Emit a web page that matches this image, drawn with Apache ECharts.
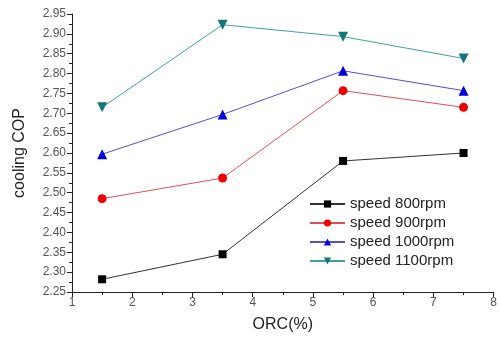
<!DOCTYPE html>
<html><head><meta charset="utf-8">
<script src="https://cdn.jsdelivr.net/npm/echarts@6/dist/echarts.min.js"></script>
<style>html,body{margin:0;padding:0;background:#fff}#c{width:500px;height:339px}</style>
</head><body><div id="c"></div>
<script>
const orc = [1.5, 3.5, 5.5, 7.5];
const s800 = [2.282, 2.345, 2.580, 2.600];
const s900 = [2.485, 2.537, 2.757, 2.715];
const s1000 = [2.597, 2.697, 2.807, 2.757];
const s1100 = [2.715, 2.923, 2.893, 2.838];
const names = ['speed 800rpm','speed 900rpm','speed 1000rpm','speed 1100rpm'];

const font = 'Liberation Sans, Arial, sans-serif';
function mk(name, vals, lineColor, markColor, symbol, rot, size){
  return {name, type:'line', data: orc.map((x,i)=>[x, vals[i]]),
    symbol, symbolSize:size, symbolRotate:rot,
    lineStyle:{color:lineColor, width:1},
    itemStyle:{color:markColor},
    color: markColor,
    emphasis:{disabled:true}};
}
const chart = echarts.init(document.getElementById('c'));
chart.setOption({
  animation:false,
  grid:{left:72, right:4, top:14, bottom:47},
  legend:{
    orient:'vertical', left:304, top:191, itemGap:3, itemWidth:35, itemHeight:9,
    textStyle:{fontFamily:font, fontSize:15, lineHeight:16, color:'#222'},
    data: names
  },
  xAxis:{type:'value', min:1, max:8, interval:1,
    name:'ORC(%)', nameLocation:'middle', nameGap:25,
    nameTextStyle:{fontFamily:font, fontSize:16, color:'#222'},
    axisLine:{lineStyle:{color:'#222'}},
    axisTick:{inside:false, length:5, lineStyle:{color:'#222'}},
    minorTick:{show:true, splitNumber:2, length:3, lineStyle:{color:'#222'}},
    axisLabel:{fontFamily:font, fontSize:12, color:'#555', margin:5},
    splitLine:{show:false}},
  yAxis:{type:'value', min:2.25, max:2.95, interval:0.05,
    name:'cooling COP', nameLocation:'middle', nameGap:44, nameRotate:90,
    nameTextStyle:{fontFamily:font, fontSize:16, color:'#222'},
    axisLine:{show:true, lineStyle:{color:'#222'}},
    axisTick:{show:true, length:5, lineStyle:{color:'#222'}},
    minorTick:{show:true, splitNumber:2, length:3, lineStyle:{color:'#222'}},
    axisLabel:{fontFamily:font, fontSize:12, color:'#555', margin:6,
      formatter:v=>v.toFixed(2)},
    splitLine:{show:false}},
  series:[
    mk(names[0], s800, '#333', '#000', 'rect', 0, 8),
    mk(names[1], s900, '#e05050', '#ee0000', 'circle', 0, 9),
    mk(names[2], s1000, '#5050d0', '#0000dd', 'triangle', 0, 10),
    mk(names[3], s1100, '#40a0a0', '#107878', 'triangle', 180, 10)
  ]
});
</script></body></html>
